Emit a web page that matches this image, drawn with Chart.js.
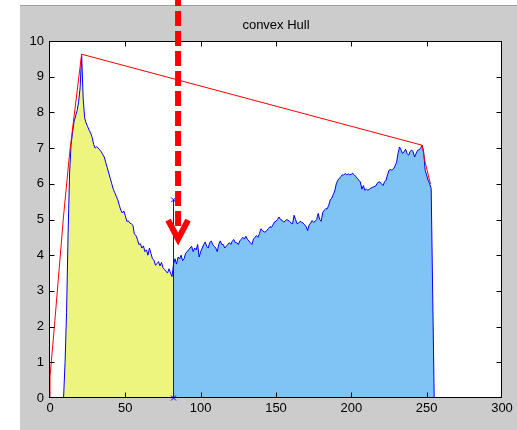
<!DOCTYPE html>
<html>
<head>
<meta charset="utf-8">
<script src="https://cdn.jsdelivr.net/npm/chart.js@4/dist/chart.umd.min.js"></script>
<style>
  html, body { margin: 0; padding: 0; background: #fff; }
  canvas { display: block; }
</style>
</head>
<body>
<canvas id="hullChart" width="517" height="430"></canvas>
<script>
// gray-level histogram, one value per level 0..255
const histogram = [
    0, 0, 0, 0, 0, 0, 0, 0, 0, 0,
    1.0, 2.4, 4.6, 6.3, 7.1, 7.45, 7.75, 7.9, 8.05, 8.3,
    8.7, 9.63, 8.4, 7.85, 7.7, 7.6, 7.5, 7.42, 7.3, 7.1,
    7.0, 7.04, 7.0, 6.95, 6.9, 6.82, 6.75, 6.6, 6.45, 6.3,
    6.15, 6.0, 5.85, 5.75, 5.65, 5.55, 5.4, 5.26, 5.18, 5.24,
    5.1, 4.95, 4.96, 4.9, 4.88, 4.84, 4.6, 4.55, 4.45, 4.3,
    4.32, 4.2, 4.26, 4.1, 4.15, 4.0, 4.2, 4.05, 3.9, 3.86,
    3.72, 3.76, 3.82, 3.7, 3.8, 3.65, 3.6, 3.55, 3.5, 3.62,
    3.5, 3.4, 3.75, 3.9, 3.75, 3.95, 3.9, 4.0, 3.85, 3.9,
    4.05, 4.1, 4.15, 4.2, 4.25, 4.1, 4.2, 4.15, 4.3, 3.95,
    4.1, 4.2, 4.3, 4.37, 4.25, 4.2, 4.35, 4.4, 4.3, 4.25,
    4.2, 4.1, 4.3, 4.4, 4.3, 4.3, 4.2, 4.25, 4.3, 4.35,
    4.3, 4.4, 4.44, 4.35, 4.35, 4.3, 4.4, 4.45, 4.5, 4.45,
    4.53, 4.45, 4.4, 4.35, 4.3, 4.45, 4.5, 4.55, 4.5, 4.6,
    4.74, 4.7, 4.65, 4.65, 4.7, 4.75, 4.8, 4.78, 4.85, 4.93,
    4.95, 5.0, 5.07, 5.0, 4.98, 4.93, 4.95, 5.0, 4.98, 4.95,
    4.9, 4.88, 5.12, 5.0, 4.88, 4.9, 4.95, 4.92, 4.9, 4.85,
    4.8, 4.69, 4.85, 4.9, 4.97, 4.92, 4.95, 5.0, 5.17, 5.0,
    4.95, 5.2, 5.26, 5.3, 5.3, 5.4, 5.55, 5.6, 5.7, 5.8,
    6.0, 6.1, 6.15, 6.2, 6.25, 6.25, 6.29, 6.25, 6.28, 6.25,
    6.27, 6.29, 6.25, 6.2, 6.15, 6.1, 6.05, 5.85, 5.95, 5.82,
    5.85, 5.82, 5.85, 5.88, 5.9, 5.92, 5.93, 6.0, 6.05, 6.05,
    6.0, 5.95, 6.05, 6.1, 6.25, 6.38, 6.4, 6.38, 6.42, 6.5,
    6.6, 6.85, 7.03, 6.95, 6.85, 6.9, 6.97, 6.85, 6.8, 6.9,
    6.95, 6.9, 6.75, 6.85, 6.94, 6.95, 7.0, 7.08, 6.9, 6.38,
    6.24, 6.1, 6.0, 5.87, 2.9, 0
];

// split level and the marker drawn there
const threshold = 82;
const thresholdMark = [0, 5.55];

// convex hull vertices
const hullX = [0, 0, 3, 9, 13, 16, 21, 247, 249, 252.5];
const hullY = [0, 0.6, 2.05, 5.1, 6.85, 7.9, 9.63, 7.08, 6.6, 6.0];

// tick values
const xTicks = [0, 50, 100, 150, 200, 250, 300];
const yTicks = [0, 1, 2, 3, 4, 5, 6, 7, 8, 9, 10];

// red dashed arrow (data units)
const arrowX = 85;
const arrowTop = 11.4;
const arrowLineEnd = 4.75;
const arrowTip = 4.45;
const arrowHalfWidth = 6.6;
const arrowHeadHeight = 0.53;

const lowPart = histogram.slice(0, threshold + 1).map((v, i) => ({ x: i, y: v }));
const highPart = histogram.slice(threshold).map((v, i) => ({ x: i + threshold, y: v }));

const figurePlugin = {
    id: 'figure',
    beforeDraw(chart) {
        const c = chart.ctx;
        const a = chart.chartArea;
        c.save();
        c.fillStyle = '#ffffff';
        c.fillRect(0, 0, chart.width, chart.height);
        c.fillStyle = '#cccccc';
        c.fillRect(20, 6, chart.width - 20, chart.height - 6);
        c.strokeStyle = '#a0a0a0';
        c.lineWidth = 1;
        c.beginPath();
        c.moveTo(20, 5.5);
        c.lineTo(chart.width, 5.5);
        c.stroke();
        c.fillStyle = '#ffffff';
        c.fillRect(a.left, a.top, a.right - a.left, a.bottom - a.top);
        c.restore();
    },
    afterDatasetsDraw(chart) {
        const c = chart.ctx;
        const a = chart.chartArea;
        const xs = chart.scales.x, ys = chart.scales.y;
        const L = Math.round(a.left) - 0.5, R = Math.round(a.right) - 0.5;
        const T = Math.round(a.top) + 0.5, B = Math.round(a.bottom) - 0.5;
        c.save();
        c.strokeStyle = '#000000';
        c.lineWidth = 1;
        c.beginPath();
        xTicks.forEach(v => {
            if (v === xs.min || v === xs.max) return;
            const px = Math.round(xs.getPixelForValue(v)) + 0.5;
            c.moveTo(px, B); c.lineTo(px, B - 5);
            c.moveTo(px, T); c.lineTo(px, T + 5);
        });
        yTicks.forEach(v => {
            if (v === ys.min || v === ys.max) return;
            const py = Math.round(ys.getPixelForValue(v)) + 0.5;
            c.moveTo(L, py); c.lineTo(L + 5, py);
            c.moveTo(R, py); c.lineTo(R - 5, py);
        });
        c.stroke();
        c.strokeRect(L, T, R - L, B - T);
        c.restore();
    },
    afterDraw(chart) {
        const c = chart.ctx;
        const xs = chart.scales.x, ys = chart.scales.y;
        const x = xs.getPixelForValue(arrowX);
        const half = x - xs.getPixelForValue(arrowX - arrowHalfWidth);
        const tip = ys.getPixelForValue(arrowTip);
        const headTop = ys.getPixelForValue(arrowTip + arrowHeadHeight);
        c.save();
        c.strokeStyle = '#ff0000';
        c.lineWidth = 6;
        c.lineCap = 'butt';
        c.setLineDash([15, 5]);
        c.beginPath();
        c.moveTo(x, ys.getPixelForValue(arrowTop));
        c.lineTo(x, ys.getPixelForValue(arrowLineEnd));
        c.stroke();
        c.setLineDash([]);
        c.lineJoin = 'miter';
        c.beginPath();
        c.moveTo(x - half, headTop);
        c.lineTo(x, tip);
        c.lineTo(x + half, headTop);
        c.stroke();
        c.restore();
    }
};

Chart.defaults.font.family = "'Liberation Sans', Arial, sans-serif";
Chart.defaults.font.size = 13;
Chart.defaults.color = '#000000';

new Chart(document.getElementById('hullChart'), {
    type: 'line',
    data: {
        datasets: [
            {
                label: 'threshold',
                data: thresholdMark.map(v => ({ x: threshold, y: v })),
                borderColor: '#0000ff',
                borderWidth: 1,
                pointStyle: 'crossRot',
                pointRadius: 3.5,
                pointBorderColor: '#0000ff',
                pointBorderWidth: 1,
                clip: false,
                order: 0
            },
            {
                label: 'hull',
                data: hullX.map((x, i) => ({ x: x, y: hullY[i] })),
                borderColor: '#ff0000',
                borderWidth: 1,
                pointRadius: 0,
                fill: false,
                order: 1
            },
            {
                label: 'object',
                data: highPart,
                borderColor: '#0000ff',
                backgroundColor: '#80c4f5',
                borderWidth: 1,
                pointRadius: 0,
                fill: 'origin',
                order: 2
            },
            {
                label: 'background',
                data: lowPart,
                borderColor: '#0000ff',
                backgroundColor: '#edf57e',
                borderWidth: 1,
                pointRadius: 0,
                fill: 'origin',
                order: 3
            }
        ]
    },
    options: {
        responsive: false,
        animation: false,
        layout: { padding: { left: 20, right: 15, top: 0, bottom: 0 } },
        plugins: {
            legend: { display: false },
            tooltip: { enabled: false },
            title: {
                display: true,
                text: 'convex Hull',
                fullSize: false,
                color: '#000000',
                font: { size: 13, weight: 'normal' },
                padding: { top: 18, bottom: 7.4 }
            }
        },
        scales: {
            x: {
                type: 'linear',
                min: 0,
                max: 300,
                afterBuildTicks: s => { s.ticks = xTicks.map(v => ({ value: v })); },
                afterFit: s => { s.height = 32; },
                grid: { display: false, drawTicks: false },
                border: { display: false },
                ticks: { padding: 3, maxRotation: 0, color: '#000000' }
            },
            y: {
                type: 'linear',
                min: 0,
                max: 10,
                afterBuildTicks: s => { s.ticks = yTicks.map(v => ({ value: v })); },
                afterFit: s => { s.width = 30; },
                grid: { display: false, drawTicks: false },
                border: { display: false },
                ticks: { padding: 6, color: '#000000' }
            }
        }
    },
    plugins: [figurePlugin]
});
</script>
</body>
</html>
